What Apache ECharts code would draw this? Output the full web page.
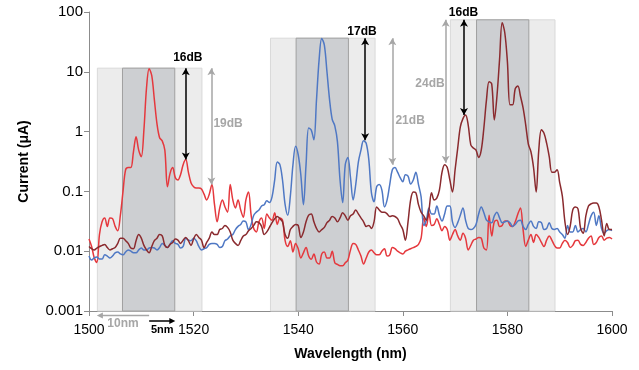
<!DOCTYPE html>
<html><head><meta charset="utf-8">
<script src="https://cdn.jsdelivr.net/npm/echarts@6/dist/echarts.min.js"></script>
<style>html,body{margin:0;padding:0;background:#fff}#c{width:639px;height:370px}</style>
</head><body><div id="c"></div>
<script>
const wavelength = [1500,1500.5,1501,1501.5,1502,1502.5,1503,1503.5,1504,1504.5,1505,1505.5,1506,1506.5,1507,1507.5,1508,1508.5,1509,1509.5,1510,1510.5,1511,1511.5,1512,1512.5,1513,1513.5,1514,1514.5,1515,1515.5,1516,1516.5,1517,1517.5,1518,1518.5,1519,1519.5,1520,1520.5,1521,1521.5,1522,1522.5,1523,1523.5,1524,1524.5,1525,1525.5,1526,1526.5,1527,1527.5,1528,1528.5,1529,1529.5,1530,1530.5,1531,1531.5,1532,1532.5,1533,1533.5,1534,1534.5,1535,1535.5,1536,1536.5,1537,1537.5,1538,1538.5,1539,1539.5,1540,1540.5,1541,1541.5,1542,1542.5,1543,1543.5,1544,1544.5,1545,1545.5,1546,1546.5,1547,1547.5,1548,1548.5,1549,1549.5,1550,1550.5,1551,1551.5,1552,1552.5,1553,1553.5,1554,1554.5,1555,1555.5,1556,1556.5,1557,1557.5,1558,1558.5,1559,1559.5,1560,1560.5,1561,1561.5,1562,1562.5,1563,1563.5,1564,1564.5,1565,1565.5,1566,1566.5,1567,1567.5,1568,1568.5,1569,1569.5,1570,1570.5,1571,1571.5,1572,1572.5,1573,1573.5,1574,1574.5,1575,1575.5,1576,1576.5,1577,1577.5,1578,1578.5,1579,1579.5,1580,1580.5,1581,1581.5,1582,1582.5,1583,1583.5,1584,1584.5,1585,1585.5,1586,1586.5,1587,1587.5,1588,1588.5,1589,1589.5,1590,1590.5,1591,1591.5,1592,1592.5,1593,1593.5,1594,1594.5,1595,1595.5,1596,1596.5,1597,1597.5,1598,1598.5,1599,1599.5,1600];

const redCurrent = [
0.016,0.012,0.0078,0.0065,0.019,0.031,0.036,0.026,0.036,0.035,
0.026,0.022,0.040,0.099,0.23,0.25,0.25,0.46,0.82,0.49,
0.38,1.07,5.4,11.3,8.6,3.4,1.35,0.79,0.7,0.49,
0.12,0.2,0.25,0.17,0.155,0.19,0.28,0.34,0.21,0.14,
0.12,0.114,0.114,0.11,0.09,0.072,0.09,0.13,0.06,0.031,
0.053,0.072,0.055,0.045,0.13,0.072,0.053,0.072,0.049,0.037,
0.072,0.098,0.04,0.024,0.021,0.031,0.036,0.024,0.042,0.036,
0.033,0.044,0.028,0.036,0.033,0.015,0.012,0.015,0.0097,0.0135,
0.011,0.0077,0.0094,0.0115,0.0083,0.0073,0.009,0.0066,0.0061,0.009,
0.0097,0.0077,0.0077,0.01,0.0064,0.006,0.0057,0.0057,0.0064,0.0071,
0.0105,0.0135,0.013,0.0105,0.0083,0.0061,0.0077,0.0097,0.0105,0.0094,
0.0087,0.0087,0.01,0.011,0.0083,0.0087,0.0115,0.011,0.01,0.0094,
0.009,0.01,0.0105,0.011,0.0115,0.012,0.013,0.0165,0.036,0.026,
0.043,0.027,0.028,0.035,0.028,0.022,0.026,0.023,0.0153,0.019,
0.023,0.018,0.0153,0.02,0.0165,0.0105,0.0125,0.0153,0.016,0.017,
0.0165,0.0113,0.0105,0.04,0.018,0.031,0.033,0.026,0.027,0.032,
0.032,0.027,0.026,0.031,0.042,0.053,0.023,0.012,0.0153,0.019,
0.014,0.019,0.017,0.014,0.012,0.0153,0.018,0.0153,0.0125,0.0113,
0.0113,0.0135,0.0153,0.014,0.0115,0.0125,0.015,0.0153,0.013,0.0125,
0.014,0.0165,0.018,0.013,0.014,0.017,0.018,0.0153,0.0165,0.017,
0.016];

const blueCurrent = [
0.0083,0.0071,0.0077,0.008,0.0074,0.0074,0.0087,0.0083,0.0077,0.0083,
0.0094,0.0097,0.009,0.0087,0.0097,0.0105,0.01,0.0094,0.0094,0.0105,
0.0113,0.0105,0.0105,0.0113,0.0115,0.0113,0.0105,0.0115,0.0135,0.0125,
0.0115,0.013,0.015,0.0135,0.013,0.0113,0.012,0.0165,0.0153,0.015,
0.0165,0.015,0.012,0.0105,0.011,0.0115,0.013,0.0135,0.0135,0.013,
0.0115,0.012,0.015,0.016,0.018,0.019,0.023,0.026,0.028,0.032,
0.031,0.023,0.028,0.04,0.045,0.049,0.057,0.06,0.07,0.065,
0.081,0.155,0.31,0.28,0.155,0.06,0.04,0.084,0.28,0.57,
0.41,0.19,0.06,0.28,1.15,1.06,0.73,3.4,16,36,
28,10,3.4,1.6,1.25,0.68,0.155,0.065,0.28,0.37,
0.17,0.072,0.13,0.31,0.49,0.7,0.64,0.34,0.095,0.067,
0.12,0.13,0.105,0.055,0.072,0.13,0.23,0.25,0.21,0.17,
0.145,0.19,0.18,0.133,0.155,0.21,0.13,0.081,0.027,0.033,
0.053,0.042,0.042,0.057,0.04,0.032,0.042,0.057,0.057,0.031,
0.025,0.03,0.04,0.053,0.033,0.024,0.023,0.024,0.028,0.042,
0.055,0.044,0.033,0.031,0.03,0.039,0.045,0.036,0.03,0.031,
0.032,0.03,0.026,0.028,0.032,0.033,0.026,0.023,0.028,0.032,
0.026,0.024,0.031,0.03,0.023,0.024,0.03,0.024,0.023,0.024,
0.021,0.019,0.0165,0.027,0.021,0.021,0.027,0.021,0.023,0.024,
0.021,0.028,0.039,0.045,0.027,0.039,0.024,0.02,0.022,0.023,
0.022];

const brownCurrent = [
0.012,0.011,0.0105,0.0113,0.012,0.0125,0.013,0.0115,0.0105,0.011,
0.0115,0.0135,0.0165,0.0165,0.015,0.0135,0.0113,0.011,0.015,0.019,
0.0165,0.0125,0.0105,0.0094,0.012,0.015,0.0165,0.019,0.018,0.0125,
0.0115,0.013,0.014,0.016,0.0153,0.0135,0.0153,0.017,0.015,0.0125,
0.016,0.019,0.017,0.0153,0.0115,0.014,0.0165,0.021,0.019,0.019,
0.023,0.024,0.027,0.025,0.021,0.0153,0.0135,0.0125,0.015,0.018,
0.019,0.022,0.024,0.027,0.031,0.03,0.026,0.019,0.021,0.025,
0.03,0.035,0.038,0.035,0.031,0.019,0.0165,0.023,0.026,0.028,
0.027,0.017,0.021,0.031,0.04,0.042,0.031,0.024,0.021,0.023,
0.025,0.03,0.033,0.038,0.036,0.031,0.036,0.044,0.039,0.033,
0.039,0.042,0.049,0.042,0.036,0.031,0.026,0.027,0.024,0.031,
0.055,0.049,0.045,0.045,0.042,0.038,0.039,0.038,0.035,0.028,
0.023,0.0153,0.031,0.072,0.098,0.095,0.06,0.045,0.039,0.033,
0.049,0.095,0.072,0.077,0.105,0.21,0.28,0.25,0.155,0.098,
0.23,0.53,1.2,1.65,1.9,1.3,0.6,0.53,0.49,0.37,
0.49,1.15,3.4,6.8,6.3,1.57,3.9,16,66,45,
14.8,2.8,2.8,5.2,5.8,3.9,2.5,1.3,0.62,0.46,
0.25,0.098,0.49,1.07,0.94,0.64,0.38,0.21,0.21,0.23,
0.14,0.084,0.031,0.019,0.026,0.049,0.055,0.051,0.024,0.02,
0.039,0.057,0.062,0.064,0.064,0.055,0.033,0.018,0.029,0.023,
0.023];

const xTickLabels = ['1500','1520','1540','1560','1580','1600'];
const yTickLabels = ['0.001','0.01','0.1','1','10','100'];

// bands: [start nm, end nm, top current]
const outerBands = [[1501.6,1521.6,11.5],[1534.7,1554.7,36.5],[1569.1,1589.1,74]];
const innerBands = [[1506.4,1516.4,11.5],[1539.6,1549.6,36.5],[1574.1,1584.1,74]];
// arrows: [nm, top, bottom]
const blackArrows = [[1518.5,11.5,0.34],[1552.8,36.5,0.72],[1571.7,74,1.9]];
const grayArrows = [[1523.4,11.5,0.13],[1558.0,36.5,0.28],[1568.2,74,0.3]];
// labels: [nm, current, text]
const blackLabels = [[1518.9,17,'16dB'],[1552.2,47,'17dB'],[1571.6,97,'16dB']];
const grayLabels = [[1526.6,1.35,'19dB'],[1561.4,1.5,'21dB'],[1565.2,6.3,'24dB']];
// span arrows below axis: [from nm, to nm (head), text, text centre nm]
const spanGray = [1511.5,1501.5,'10nm',1506.5];
const spanBlack = [1511.5,1516.5,'5nm',1514.0];

const FONT = '"Liberation Sans", Arial, sans-serif';
const RED = '#e5383d', BLUE = '#4f78c4', BROWN = '#8a2a2e', GRAY = '#a6a6a6';

function pairs(vals){ return wavelength.map((w,i)=>[w, vals[i]]); }
function bandData(bands){ return bands.map(b=>[{xAxis:b[0], yAxis:0.001},{xAxis:b[1], yAxis:b[2]}]); }
function arrowData(arr){ return arr.map(a=>[{coord:[a[0],a[1]]},{coord:[a[0],a[2]]}]); }
function labelData(arr,color){ return arr.map(l=>({coord:[l[0],l[1]], value:l[2],
  label:{show:true, position:'inside', formatter:l[2], color:color, fontFamily:FONT, fontWeight:'bold', fontSize:12}})); }

const chart = echarts.init(document.getElementById('c'), null, {renderer:'canvas'});
const lineBase = {type:'line', showSymbol:false, symbol:'none', smooth:0.35, clip:true, silent:true, animation:false};

chart.setOption({
  animation:false,
  backgroundColor:'#fff',
  grid:{left:89, right:27, top:12, bottom:59, containLabel:false},
  xAxis:{type:'value', min:1500, max:1600, interval:20,
    name:'Wavelength (nm)', nameLocation:'middle', nameGap:36,
    nameTextStyle:{fontFamily:FONT, fontWeight:'bold', fontSize:14, color:'#000'},
    axisLine:{show:true, lineStyle:{color:'#8c8c8c', width:1}},
    axisTick:{show:true, length:5, lineStyle:{color:'#8c8c8c'}},
    axisLabel:{margin:12, fontFamily:FONT, fontSize:14, color:'#000',
      formatter:(v)=>{const i=Math.round((v-1500)/20); return xTickLabels[i]||'';}},
    splitLine:{show:false}},
  yAxis:{type:'log', logBase:10, min:0.001, max:100,
    name:'Current (μA)', nameLocation:'middle', nameGap:58, nameRotate:90,
    nameTextStyle:{fontFamily:FONT, fontWeight:'bold', fontSize:14, color:'#000'},
    axisLine:{show:true, lineStyle:{color:'#8c8c8c', width:1}},
    axisTick:{show:true, length:5, lineStyle:{color:'#8c8c8c'}},
    axisLabel:{margin:6, fontFamily:FONT, fontSize:15, color:'#000',
      formatter:(v)=>{const i=Math.round(Math.log10(v))+3; return yTickLabels[i]||'';}},
    splitLine:{show:false}},
  series:[
    Object.assign({}, lineBase, {name:'outerBands', data:[], z:1,
      markArea:{silent:true, itemStyle:{color:'#ececec', borderColor:'#d9d9d9', borderWidth:1}, data:bandData(outerBands)}}),
    Object.assign({}, lineBase, {name:'innerBands', data:[], z:1,
      markArea:{silent:true, itemStyle:{color:'#cdcfd2', borderColor:'#a0a0a0', borderWidth:1}, data:bandData(innerBands)}}),
    Object.assign({}, lineBase, {name:'red', data:pairs(redCurrent), z:3, lineStyle:{color:RED, width:1.5}, itemStyle:{color:RED}}),
    Object.assign({}, lineBase, {name:'blue', data:pairs(blueCurrent), z:3, lineStyle:{color:BLUE, width:1.5}, itemStyle:{color:BLUE}}),
    Object.assign({}, lineBase, {name:'brown', data:pairs(brownCurrent), z:3, lineStyle:{color:BROWN, width:1.5}, itemStyle:{color:BROWN}}),
    Object.assign({}, lineBase, {name:'grayArrows', data:[], z:4,
      markLine:{silent:true, symbol:['arrow','arrow'], symbolSize:[6,7], label:{show:false},
        lineStyle:{color:GRAY, width:1.5, type:'solid'}, data:arrowData(grayArrows)},
      markPoint:{silent:true, symbol:'circle', symbolSize:1, itemStyle:{color:'rgba(0,0,0,0)'}, data:labelData(grayLabels, GRAY)}}),
    Object.assign({}, lineBase, {name:'blackArrows', data:[], z:5,
      markLine:{silent:true, symbol:['arrow','arrow'], symbolSize:[6,7], label:{show:false},
        lineStyle:{color:'#000', width:1.5, type:'solid'}, data:arrowData(blackArrows)},
      markPoint:{silent:true, symbol:'circle', symbolSize:1, itemStyle:{color:'rgba(0,0,0,0)'}, data:labelData(blackLabels, '#000')}})
  ]
});

// span arrows under the x axis, positioned through the axis scale
const axisY = chart.convertToPixel({yAxisIndex:0}, 0.001);
function spanGraphic(span, color, dy, textDy, fontSize){
  const x0 = chart.convertToPixel({xAxisIndex:0}, span[0]);
  const x1 = chart.convertToPixel({xAxisIndex:0}, span[1]);
  const xt = chart.convertToPixel({xAxisIndex:0}, span[3]);
  const y = axisY + dy;
  const dir = x1 > x0 ? 1 : -1;
  return [
    {type:'line', shape:{x1:x0, y1:y, x2:x1 - dir*4, y2:y}, style:{stroke:color, lineWidth:1.5}, silent:true, z:10},
    {type:'polygon', shape:{points:[[x1,y],[x1-dir*6,y-3],[x1-dir*6,y+3]]}, style:{fill:color}, silent:true, z:10},
    {type:'text', x:xt, y:axisY + textDy, style:{text:span[2], fill:color, font:'bold '+fontSize+'px '+FONT, textAlign:'center', textVerticalAlign:'middle'}, silent:true, z:10}
  ];
}
chart.setOption({graphic:[].concat(
  spanGraphic(spanGray, GRAY, 4.5, 12.5, 12),
  spanGraphic(spanBlack, '#000', 10, 19, 11)
)});
</script></body></html>
